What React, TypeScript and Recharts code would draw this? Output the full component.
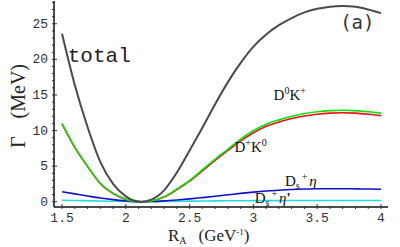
import React from 'react';
import { LineChart, Line, XAxis, YAxis, ReferenceDot } from 'recharts';

// R_A in GeV^-1
const rA = [1.5, 1.6, 1.7, 1.8, 1.9, 2.0, 2.05, 2.12, 2.2, 2.3, 2.4, 2.5, 2.6, 2.7, 2.8, 2.9, 3.0, 3.1, 3.2, 3.3, 3.4, 3.5, 3.6, 3.7, 3.8, 3.9, 4.0];

// widths in MeV
const totalW = [23.6, 16.4, 10.5, 5.6, 2.5, 0.75, 0.25, 0, 0.3, 1.6, 4.1, 7.2, 10.4, 13.7, 16.8, 19.5, 21.8, 23.5, 24.8, 25.8, 26.6, 27.1, 27.4, 27.5, 27.4, 27.0, 26.5];
const d0KpW = [11.0, 7.7, 5.0, 2.6, 1.2, 0.35, 0.12, 0, 0.12, 0.7, 1.8, 3.0, 4.5, 6.0, 7.4, 8.8, 10.0, 10.9, 11.5, 12.0, 12.4, 12.65, 12.8, 12.85, 12.8, 12.65, 12.45];
const dpK0W = [10.9, 7.6, 4.95, 2.55, 1.15, 0.33, 0.11, 0, 0.11, 0.65, 1.7, 2.9, 4.35, 5.8, 7.2, 8.55, 9.7, 10.6, 11.2, 11.7, 12.05, 12.3, 12.45, 12.5, 12.45, 12.3, 12.1];
const dsEtaW = [1.4, 1.1, 0.8, 0.52, 0.3, 0.12, 0.05, 0, 0.03, 0.12, 0.25, 0.4, 0.58, 0.77, 0.97, 1.17, 1.35, 1.5, 1.62, 1.72, 1.78, 1.82, 1.83, 1.83, 1.81, 1.78, 1.75];
const dsEtaPW = [0.2, 0.17, 0.14, 0.1, 0.06, 0.03, 0.01, 0, 0.01, 0.03, 0.05, 0.08, 0.1, 0.12, 0.13, 0.14, 0.15, 0.16, 0.16, 0.17, 0.17, 0.17, 0.17, 0.17, 0.17, 0.17, 0.17];

const xTicks = [1.5, 1.6, 1.7, 1.8, 1.9, 2.0, 2.1, 2.2, 2.3, 2.4, 2.5, 2.6, 2.7, 2.8, 2.9, 3.0, 3.1, 3.2, 3.3, 3.4, 3.5, 3.6, 3.7, 3.8, 3.9, 4.0];
const yTicks = Array.from({ length: 29 }, (_, i) => i);

const data = rA.map((r, i) => ({
  r,
  total: totalW[i],
  d0kp: d0KpW[i],
  dpk0: dpK0W[i],
  dseta: dsEtaW[i],
  dsetap: dsEtaPW[i],
}));

const mono = '"Liberation Mono", "Courier New", monospace';
const serif = '"Liberation Serif", "Times New Roman", serif';

const isMajorX = (v: number) => Math.abs(v * 2 - Math.round(v * 2)) < 1e-6;
const isMajorY = (v: number) => v % 5 === 0;

const BottomTick = (props: any) => {
  const { x, y, payload } = props;
  const major = isMajorX(payload.value);
  return (
    <g>
      <line x1={x} y1={y} x2={x} y2={y - (major ? 5 : 3)} stroke="#333" strokeWidth={1} />
      {major && (
        <text x={x} y={y + 13} textAnchor="middle" fontFamily={mono} fontSize={13} fill="#333">
          {String(payload.value)}
        </text>
      )}
    </g>
  );
};

const TopTick = (props: any) => {
  const { x, y, payload } = props;
  const major = isMajorX(payload.value);
  return <line x1={x} y1={y} x2={x} y2={y + (major ? 5 : 3)} stroke="#777" strokeWidth={1} />;
};

const LeftTick = (props: any) => {
  const { x, y, payload } = props;
  const major = isMajorY(payload.value);
  return (
    <g>
      <line x1={x} y1={y} x2={x + (major ? 5 : 3)} y2={y} stroke="#333" strokeWidth={1} />
      {major && (
        <text x={x - 4} y={y + 4} textAnchor="end" fontFamily={mono} fontSize={13} fill="#333">
          {String(payload.value)}
        </text>
      )}
    </g>
  );
};

const RightTick = (props: any) => {
  const { x, y, payload } = props;
  const major = isMajorY(payload.value);
  return <line x1={x} y1={y} x2={x - (major ? 5 : 3)} y2={y} stroke="#777" strokeWidth={1} />;
};

const YTitle = () => (
  <text x={25} y={106} textAnchor="middle" transform="rotate(-90, 25, 106)" fontFamily={serif} fontSize={20} fill="#222">
    <tspan>Γ</tspan>
    <tspan dx={18}>(MeV)</tspan>
  </text>
);

const XTitle = () => (
  <text x={168} y={241} fontFamily={serif} fontSize={17} fill="#222">
    <tspan>R</tspan>
    <tspan fontSize={10} dy={3}>A</tspan>
    <tspan dx={12} dy={-3}>(GeV</tspan>
    <tspan fontSize={9} dy={-6}>-1</tspan>
    <tspan dy={6}>)</tspan>
  </text>
);

const note = (render: (x: number, y: number) => React.ReactNode) => (p: any) => {
  const vb = p.viewBox || {};
  return render(vb.x ?? 0, vb.y ?? 0);
};

const App: React.FC = () => {
  return (
    <div style={{ position: 'absolute', left: 0, top: 0, background: '#fff' }}>
      <LineChart width={400} height={247} data={data} margin={{ top: 1, right: 12, bottom: 0, left: 0 }}>
        <XAxis
          dataKey="r"
          type="number"
          domain={[1.437, 4.055]}
          ticks={xTicks}
          allowDataOverflow
          height={40}
          tickSize={0}
          tickLine={false}
          tick={<BottomTick />}
          axisLine={{ stroke: '#111', strokeWidth: 1.5 }}
          interval={0}
          label={{ content: () => <XTitle /> }}
        />
        <XAxis
          xAxisId="top"
          orientation="top"
          dataKey="r"
          type="number"
          domain={[1.437, 4.055]}
          ticks={xTicks}
          allowDataOverflow
          height={0}
          tickSize={0}
          tickLine={false}
          tick={<TopTick />}
          axisLine={{ stroke: '#777', strokeWidth: 1 }}
          interval={0}
        />
        <YAxis
          type="number"
          domain={[-0.74, 28.2]}
          ticks={yTicks}
          allowDataOverflow
          width={54}
          tickSize={0}
          tickLine={false}
          tick={<LeftTick />}
          axisLine={{ stroke: '#111', strokeWidth: 1.5 }}
          interval={0}
          label={{ content: () => <YTitle /> }}
        />
        <YAxis
          yAxisId="right"
          orientation="right"
          type="number"
          domain={[-0.74, 28.2]}
          ticks={yTicks}
          allowDataOverflow
          width={0}
          tickSize={0}
          tickLine={false}
          tick={<RightTick />}
          axisLine={{ stroke: '#777', strokeWidth: 1 }}
          interval={0}
        />
        <Line type="monotone" dataKey="dsetap" stroke="#22dddd" strokeWidth={1.6} dot={false} isAnimationActive={false} />
        <Line type="monotone" dataKey="dseta" stroke="#1111cc" strokeWidth={1.6} dot={false} isAnimationActive={false} />
        <Line type="monotone" dataKey="dpk0" stroke="#ee1111" strokeWidth={1.6} dot={false} isAnimationActive={false} />
        <Line type="monotone" dataKey="d0kp" stroke="#11e011" strokeWidth={1.6} dot={false} isAnimationActive={false} />
        <Line type="monotone" dataKey="total" stroke="#4a4a4a" strokeWidth={2} dot={false} isAnimationActive={false} />
        <ReferenceDot
          x={1.545}
          y={19.6}
          r={0}
          label={{
            content: note((x, y) => (
              <text x={x} y={y} fontFamily={mono} fontSize={21} fill="#222">total</text>
            )),
          }}
        />
        <ReferenceDot
          x={3.68}
          y={24.3}
          r={0}
          label={{
            content: note((x, y) => (
              <text x={x} y={y} fontFamily={'"DejaVu Sans Mono", monospace'} fontSize={19} fill="#333">(a)</text>
            )),
          }}
        />
        <ReferenceDot
          x={3.158}
          y={14.24}
          r={0}
          label={{
            content: note((x, y) => (
              <text x={x} y={y} fontFamily={serif} fontSize={15} fill="#111">
                <tspan>D</tspan>
                <tspan fontSize={10} dy={-6}>0</tspan>
                <tspan dy={6}>K</tspan>
                <tspan fontSize={10} dy={-6}>+</tspan>
              </text>
            )),
          }}
        />
        <ReferenceDot
          x={2.852}
          y={7.0}
          r={0}
          label={{
            content: note((x, y) => (
              <text x={x} y={y} fontFamily={serif} fontSize={15} fill="#111">
                <tspan>D</tspan>
                <tspan fontSize={10} dy={-6}>+</tspan>
                <tspan dy={6}>K</tspan>
                <tspan fontSize={10} dy={-6}>0</tspan>
              </text>
            )),
          }}
        />
        <ReferenceDot
          x={3.247}
          y={2.2}
          r={0}
          label={{
            content: note((x, y) => (
              <text x={x} y={y} fontFamily={serif} fontSize={15} fill="#111">
                <tspan>D</tspan>
                <tspan fontSize={10} dy={3}>s</tspan>
                <tspan fontSize={10} dx={2} dy={-9}>+</tspan>
                <tspan fontStyle="italic" dx={2} dy={6}>η</tspan>
              </text>
            )),
          }}
        />
        <ReferenceDot
          x={3.01}
          y={-0.2}
          r={0}
          label={{
            content: note((x, y) => (
              <text x={x} y={y} fontFamily={serif} fontSize={15} fill="#111">
                <tspan>D</tspan>
                <tspan fontSize={10} dy={3}>s</tspan>
                <tspan fontSize={10} dx={2} dy={-9}>+</tspan>
                <tspan fontStyle="italic" dx={2} dy={6}>η</tspan>
                <tspan fontWeight="bold">'</tspan>
              </text>
            )),
          }}
        />
      </LineChart>
    </div>
  );
};

export default App;
